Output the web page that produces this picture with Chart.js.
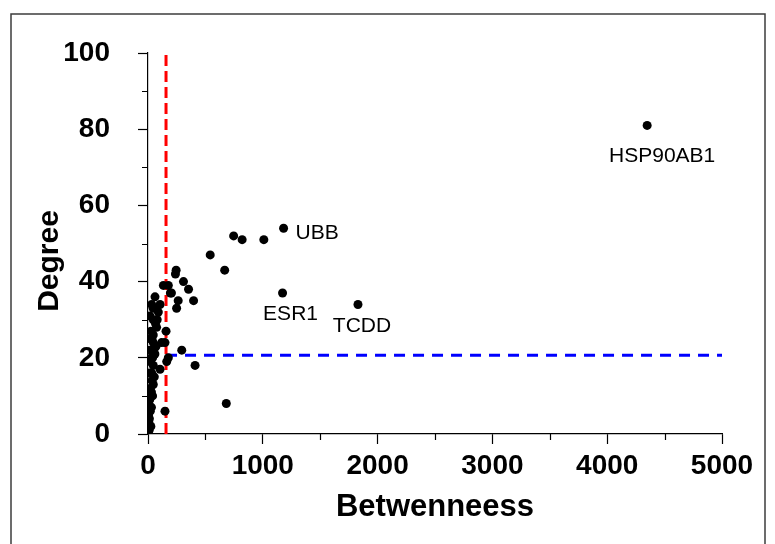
<!DOCTYPE html>
<html>
<head>
<meta charset="utf-8">
<script src="https://cdn.jsdelivr.net/npm/chart.js@4.4.1/dist/chart.umd.min.js"></script>
<style>
  body { margin: 0; background: #fff; }
  #wrap { width: 775px; height: 544px; position: relative; }
</style>
</head>
<body>
<div id="wrap"><canvas id="grafica"></canvas></div>
<script>
// Genes con etiqueta
const geneNames = ["HSP90AB1", "UBB", "ESR1", "TCDD"];
const geneX = [4348, 1181, 1172, 1829];
const geneY = [81, 54, 37, 34];

// Resto de nodos (betweenness, degree)
const otherX = [746, 820, 1009, 542, 668, 245, 239, 309, 353, 397, 134, 177, 195, 204, 263, 249,
  61, 32, 105, 90, 17, 46, 157, 46, 17, 148, 119, 46, 294, 17, 177, 163, 105, 46, 410, 32,
  46, 17, 3, 5, 8, 10, 682, 148, 25, 30, 60, 20, 55, 35, 20, 40, 15, 30, 20, 12, 25, 5, 70, 75,
  40, 50, 35, 65, 45, 80, 10, 30];
const otherY = [52, 51, 51, 47, 43, 43, 42, 40, 38, 35, 39, 39, 37, 37, 35, 33,
  36, 34, 34, 32, 31, 30, 27, 26, 25, 24, 24, 24, 22, 22, 20, 19, 17, 18, 18, 16,
  13, 11, 8, 5, 3, 1, 8, 6, 27, 20, 21, 19, 15, 14, 12, 10, 9, 7, 6, 4, 2, 0, 23, 28,
  20, 22, 25, 29, 33, 30, 16, 11];

// Umbrales
const cutBetweenness = 157;
const cutDegree = 20.7;

// Ejes
const xMax = 5000;
const yMax = 100;

const fontFam = 'Arial, "Liberation Sans", sans-serif';

const puntos = [];
geneX.forEach((v, i) => puntos.push({ x: v, y: geneY[i] }));
otherX.forEach((v, i) => puntos.push({ x: v, y: otherY[i] }));

// Marco gris y titulo del eje Y
const marco = {
  id: "marco",
  afterDraw(chart) {
    const ctx = chart.ctx;
    ctx.save();
    ctx.strokeStyle = "#3c3c3c";
    ctx.lineWidth = 1.5;
    ctx.beginPath();
    ctx.moveTo(11, 544);
    ctx.lineTo(11, 14);
    ctx.lineTo(765, 14);
    ctx.lineTo(765, 544);
    ctx.stroke();
    // titulo del eje Y
    ctx.fillStyle = "#000";
    ctx.font = "bold 30px " + fontFam;
    ctx.textAlign = "center";
    ctx.textBaseline = "middle";
    ctx.translate(50, 261);
    ctx.rotate(-Math.PI / 2);
    ctx.fillText("Degree", 0, 0);
    ctx.restore();
  },
};

// Ticks menores
const ticksMenores = {
  id: "ticksMenores",
  afterDraw(chart) {
    const ctx = chart.ctx;
    const sx = chart.scales.x;
    const sy = chart.scales.y;
    ctx.save();
    ctx.strokeStyle = "#000";
    ctx.lineWidth = 1.2;
    ctx.beginPath();
    for (let v = 500; v < xMax; v += 1000) {
      const px = Math.round(sx.getPixelForValue(v)) + 0.5;
      ctx.moveTo(px, sx.top);
      ctx.lineTo(px, sx.top + 6);
    }
    for (let v = 10; v < yMax; v += 20) {
      const py = Math.round(sy.getPixelForValue(v)) + 0.5;
      ctx.moveTo(sy.right, py);
      ctx.lineTo(sy.right - 6, py);
    }
    ctx.stroke();
    ctx.restore();
  },
};

// Etiquetas de los genes
const etiquetas = {
  id: "etiquetas",
  afterDatasetsDraw(chart) {
    const ctx = chart.ctx;
    const sx = chart.scales.x;
    const sy = chart.scales.y;
    const offs = [
      { dx: 15, dy: 31, align: "center" },
      { dx: 12, dy: 5, align: "left" },
      { dx: 8, dy: 21, align: "center" },
      { dx: 4, dy: 22, align: "center" },
    ];
    ctx.save();
    ctx.fillStyle = "#000";
    ctx.font = "21px " + fontFam;
    ctx.textBaseline = "middle";
    geneNames.forEach((name, i) => {
      const px = sx.getPixelForValue(geneX[i]);
      const py = sy.getPixelForValue(geneY[i]);
      ctx.textAlign = offs[i].align;
      ctx.fillText(name, px + offs[i].dx, py + offs[i].dy);
    });
    ctx.restore();
  },
};

new Chart(document.getElementById("grafica"), {
  type: "scatter",
  data: {
    datasets: [
      {
        label: "Nodos",
        data: puntos,
        backgroundColor: "#000",
        borderWidth: 0,
        pointRadius: 4.5,
        pointHoverRadius: 4.5,
      },
      {
        type: "line",
        label: "Corte betweenness",
        data: [{ x: cutBetweenness, y: 0 }, { x: cutBetweenness, y: yMax }],
        borderColor: "#ff0000",
        borderWidth: 3,
        borderDash: [11, 5],
        pointRadius: 0,
        fill: false,
      },
      {
        type: "line",
        label: "Corte degree",
        data: [{ x: cutBetweenness, y: cutDegree }, { x: xMax, y: cutDegree }],
        borderColor: "#0000ff",
        borderWidth: 3,
        borderDash: [11, 8],
        pointRadius: 0,
        fill: false,
      },
    ],
  },
  options: {
    responsive: true,
    maintainAspectRatio: false,
    animation: false,
    events: [],
    layout: { padding: { left: 0, top: 53, right: 53, bottom: 0 } },
    plugins: { legend: { display: false }, tooltip: { enabled: false } },
    scales: {
      x: {
        type: "linear",
        min: 0,
        max: xMax,
        ticks: {
          stepSize: 1000,
          maxRotation: 0,
          padding: 5,
          color: "#000",
          font: { family: fontFam, size: 28, weight: "bold" },
          callback: (v) => String(v),
        },
        grid: { drawOnChartArea: false, tickLength: 10, color: "#000", tickWidth: 1.2 },
        border: { color: "#000", width: 1.2 },
        title: {
          display: true,
          text: "Betwenneess",
          color: "#000",
          font: { family: fontFam, size: 31, weight: "bold" },
          padding: { top: 0, bottom: 18 },
        },
        afterFit: (s) => { s.height = 110; },
      },
      y: {
        type: "linear",
        min: 0,
        max: yMax,
        ticks: {
          stepSize: 20,
          padding: 28,
          color: "#000",
          font: { family: fontFam, size: 28, weight: "bold" },
          callback: (v) => String(v),
        },
        grid: { drawOnChartArea: false, tickLength: 10, color: "#000", tickWidth: 1.2 },
        border: { color: "#000", width: 1.2 },
        title: { display: false },
        afterFit: (s) => { s.width = 148; },
      },
    },
  },
  plugins: [marco, ticksMenores, etiquetas],
});
</script>
</body>
</html>
